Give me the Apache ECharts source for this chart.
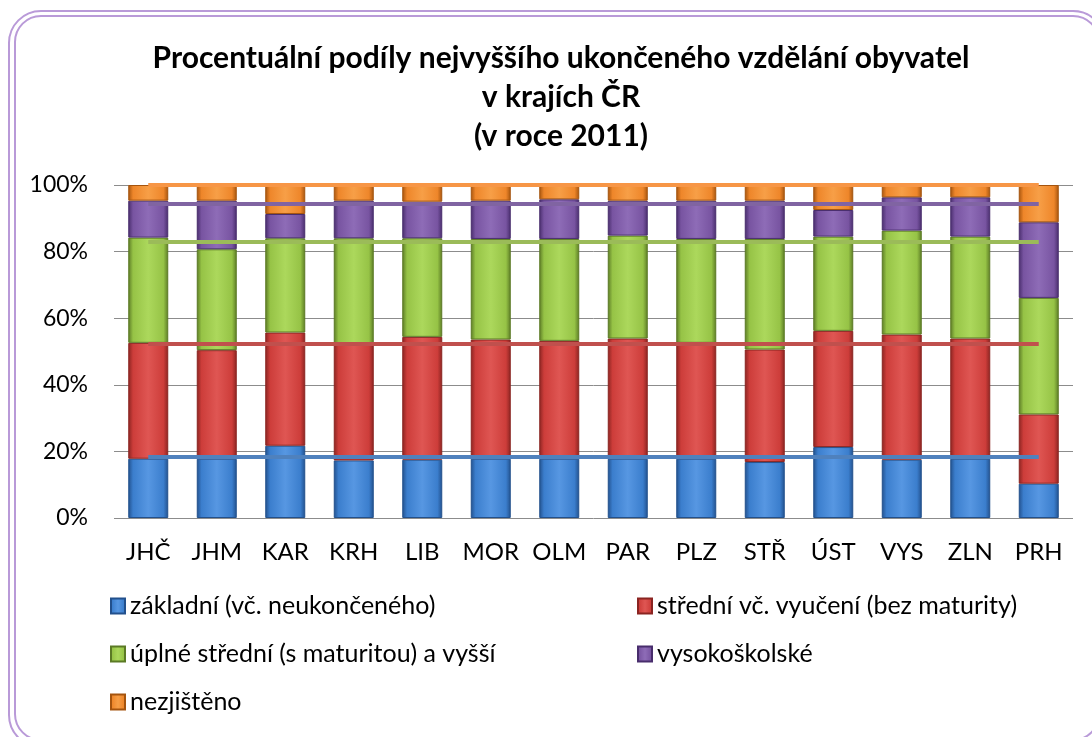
<!DOCTYPE html>
<html>
<head>
<meta charset="utf-8">
<script src="https://cdn.jsdelivr.net/npm/echarts@6/dist/echarts.min.js"></script>
<style>
html, body { margin: 0; padding: 0; background: #fff; }
#chart { width: 1092px; height: 737px; }
</style>
</head>
<body>
<div id="chart"></div>
<script>
// kraje CR, podily v %
var kraje = ['JHČ', 'JHM', 'KAR', 'KRH', 'LIB', 'MOR', 'OLM', 'PAR', 'PLZ', 'STŘ', 'ÚST', 'VYS', 'ZLN', 'PRH'];
var zakladni = [17.8, 17.8, 21.7, 17.3, 17.5, 17.8, 17.8, 17.8, 17.8, 16.8, 21.3, 17.5, 17.8, 10.3];
var stredni = [34.8, 32.6, 34.0, 35.1, 36.9, 35.8, 35.4, 36.1, 34.8, 33.8, 34.9, 37.6, 36.1, 20.8];
var uplneStredni = [31.6, 30.3, 28.3, 31.6, 29.6, 30.2, 30.6, 30.9, 31.2, 33.2, 28.3, 31.2, 30.6, 35.0];
var vysokoskolske = [11.1, 14.6, 7.3, 11.3, 11.0, 11.5, 11.9, 10.5, 11.5, 11.5, 8.0, 10.0, 11.8, 22.7];
var nezjisteno = [4.7, 4.7, 8.7, 4.7, 5.0, 4.7, 4.3, 4.7, 4.7, 4.7, 7.5, 3.7, 3.7, 11.2];
// prumer CR - kumulativne (hranice mezi kategoriemi)
var prumerCR = [18.4, 52.2, 83.0, 94.4, 100];
var yTicks = [0, 20, 40, 60, 80, 100];

var nazvy = ['základní (vč. neukončeného)', 'střední vč. vyučení (bez maturity)',
    'úplné střední (s maturitou) a vyšší', 'vysokoškolské', 'nezjištěno'];
var hodnoty = [zakladni, stredni, uplneStredni, vysokoskolske, nezjisteno];
// [okraj, stred, svetly]
var barvy = [
    ['#22508c', '#3b7ecd', '#5797e2'],
    ['#8a2421', '#cd3d3a', '#df5653'],
    ['#5b7a25', '#96c346', '#acd85c'],
    ['#482d6c', '#7854a1', '#8e6cb7'],
    ['#a5540e', '#ee862a', '#f79f47']
];
var linie = ['#4f81bd', '#c0504d', '#9bbb59', '#8064a2', '#f79646'];

function gradient(c) {
    return {
        type: 'linear', x: 0, y: 0, x2: 1, y2: 0,
        colorStops: [
            {offset: 0, color: c[0]},
            {offset: 0.12, color: c[1]},
            {offset: 0.5, color: c[2]},
            {offset: 0.88, color: c[1]},
            {offset: 1, color: c[0]}
        ]
    };
}

var series = [];
for (var i = 0; i < nazvy.length; ++i) {
    series.push({
        name: nazvy[i],
        type: 'bar',
        stack: 'kraje',
        barWidth: 40,
        data: hodnoty[i],
        itemStyle: {
            color: gradient(barvy[i]),
            borderColor: barvy[i][0],
            borderWidth: 1
        },
        markLine: {
            silent: true,
            symbol: 'none',
            z: 10,
            label: {show: false},
            lineStyle: {color: linie[i], width: 4, type: 'solid'},
            data: [[
                {coord: [kraje[0], prumerCR[i]]},
                {coord: [kraje[kraje.length - 1], prumerCR[i]]}
            ]]
        }
    });
}

var font = 'Lato, "Open Sans", sans-serif';
var legendText = {fontFamily: font, fontSize: 25, color: '#000', lineHeight: 26};

var option = {
    animation: false,
    textStyle: {fontFamily: font},
    title: {
        text: 'Procentuální podíly nejvyššího ukončeného vzdělání obyvatel\nv krajích ČR\n(v roce 2011)',
        left: 556,
        top: 34,
        textAlign: 'center',
        textStyle: {fontFamily: font, fontSize: 30, fontWeight: 'bold', color: '#000', lineHeight: 39}
    },
    legend: [
        {
            orient: 'vertical',
            left: 105,
            top: 588,
            itemWidth: 14,
            itemHeight: 15,
            itemGap: 22,
            icon: 'rect',
            data: [nazvy[0], nazvy[2], nazvy[4]],
            textStyle: legendText
        },
        {
            orient: 'vertical',
            left: 632,
            top: 588,
            itemWidth: 14,
            itemHeight: 15,
            itemGap: 22,
            icon: 'rect',
            data: [nazvy[1], nazvy[3]],
            textStyle: legendText
        }
    ],
    grid: {left: 114, right: 19, top: 185, bottom: 219, containLabel: false},
    xAxis: {
        type: 'category',
        data: kraje,
        axisLine: {show: false},
        axisTick: {show: false},
        axisLabel: {color: '#000', fontSize: 24, fontFamily: font, margin: 22, interval: 0, hideOverlap: false}
    },
    yAxis: {
        type: 'value',
        min: yTicks[0],
        max: yTicks[yTicks.length - 1],
        interval: 20,
        axisLine: {show: false},
        axisTick: {show: false},
        splitLine: {lineStyle: {color: '#8c8c8c', width: 1}},
        axisLabel: {color: '#000', fontSize: 23, fontFamily: font, margin: 26, formatter: '{value}%'}
    },
    graphic: [
        {
            type: 'rect',
            shape: {x: 9, y: 11, width: 1096, height: 736, r: 32},
            style: {fill: null, stroke: '#b99ad8', lineWidth: 2},
            silent: true
        },
        {
            type: 'rect',
            shape: {x: 15, y: 16, width: 1084, height: 724, r: 26},
            style: {fill: null, stroke: '#b99ad8', lineWidth: 2},
            silent: true
        }
    ],
    series: series
};

var myChart = echarts.init(document.getElementById('chart'));
myChart.setOption(option);
</script>
</body>
</html>
